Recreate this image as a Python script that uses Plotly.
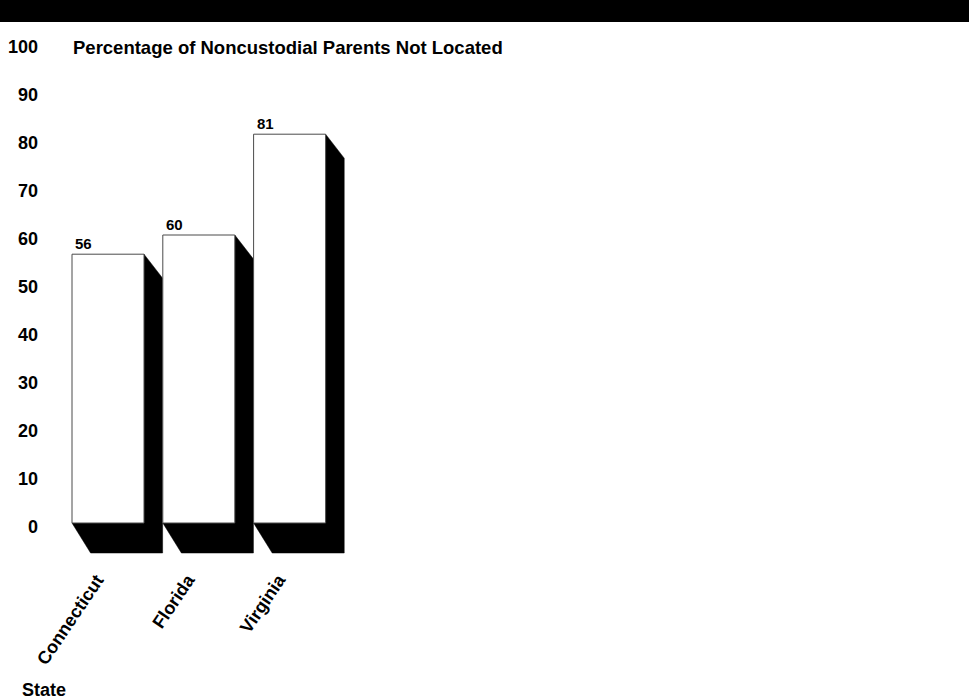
import plotly.graph_objects as go

# Data
states = ["Connecticut", "Florida", "Virginia"]
pct_not_located = [56, 60, 81]
y_ticks = [0, 10, 20, 30, 40, 50, 60, 70, 80, 90, 100]

# Styling constants for the pseudo-3D bars
BAR_W = 0.793          # bar width in category units
SH_DX = 0.205          # shadow offset to the right (category units)
SH_TOP_DY = 5.0        # drop of the top shadow edge (value units)
SH_BOT_DY = 6.25       # drop of the bottom shadow edge (value units)
FONT = "Liberation Sans, Arial, sans-serif"

fig = go.Figure()

xs = list(range(len(states)))

# black drop shadows behind each bar
for x, v in zip(xs, pct_not_located):
    left, right = x - BAR_W / 2, x + BAR_W / 2
    px = [left, left + SH_DX, right + SH_DX, right + SH_DX, right, right, left]
    py = [0, -SH_BOT_DY, -SH_BOT_DY, v - SH_TOP_DY, v, 0, 0]
    fig.add_trace(go.Scatter(
        x=px, y=py, mode="lines", fill="toself",
        fillcolor="black", line=dict(color="black", width=0.5),
        hoverinfo="skip", showlegend=False,
    ))

# white bar faces
for x, v in zip(xs, pct_not_located):
    left, right = x - BAR_W / 2, x + BAR_W / 2
    fig.add_trace(go.Scatter(
        x=[left, left, right, right, left], y=[0, v, v, 0, 0],
        mode="lines", fill="toself", fillcolor="white",
        line=dict(color="#4a4a4a", width=1),
        hoverinfo="skip", showlegend=False,
    ))

# value labels above each bar, left-aligned
for x, v in zip(xs, pct_not_located):
    fig.add_annotation(
        x=x - BAR_W / 2, y=v, text=str(v), showarrow=False,
        xanchor="left", yanchor="bottom", xshift=1, yshift=0,
        font=dict(family=FONT, size=15, color="black", weight="bold"),
    )

# plot-area geometry (pixels)
L, R, T, B = 50, 20, 30, 140
W, H = 969, 700
x0_px, step_px = 108, 90.8
zero_px, unit_px = 523, 4.8
plot_w = W - L - R
plot_h = H - T - B
x_min = (L - x0_px) / step_px
x_max = (W - R - x0_px) / step_px
y_max = (zero_px - T) / unit_px
y_min = (zero_px - (H - B)) / unit_px

fig.update_xaxes(
    range=[x_min, x_max], tickmode="array", tickvals=xs, ticktext=states,
    tickangle=-56, showgrid=False, zeroline=False, showline=False, ticks="",
    ticklabelshift=-11, ticklabelstandoff=5, automargin=False,
    tickfont=dict(family=FONT, size=18, color="black", weight="bold"),
    fixedrange=True,
)
fig.update_yaxes(
    range=[y_min, y_max], tickmode="array", tickvals=y_ticks,
    showgrid=False, zeroline=False, showline=False, ticks="",
    ticklabelstandoff=11, ticklabelshift=4, automargin=False,
    tickfont=dict(family=FONT, size=18, color="black", weight="bold"),
    fixedrange=True,
)

def paper_x(px):
    return (px - L) / plot_w

def paper_y(py):
    return (H - B - py) / plot_h

# black band across the top
fig.add_shape(
    type="rect", xref="paper", yref="paper",
    x0=paper_x(0), x1=paper_x(W), y0=paper_y(22), y1=paper_y(0),
    fillcolor="black", line=dict(width=0), layer="above",
)

fig.add_annotation(
    xref="paper", yref="paper", x=paper_x(71), y=paper_y(47),
    text="Percentage of Noncustodial Parents Not Located", showarrow=False,
    xanchor="left", yanchor="middle",
    font=dict(family=FONT, size=18.5, color="black", weight="bold"),
)
fig.add_annotation(
    xref="paper", yref="paper", x=paper_x(20), y=paper_y(690),
    text="State", showarrow=False, xanchor="left", yanchor="middle",
    font=dict(family=FONT, size=18, color="black", weight="bold"),
)

fig.update_layout(
    width=W, height=H,
    margin=dict(l=L, r=R, t=T, b=B, autoexpand=False),
    paper_bgcolor="white", plot_bgcolor="white",
    showlegend=False,
)

fig.write_html("out.html")
